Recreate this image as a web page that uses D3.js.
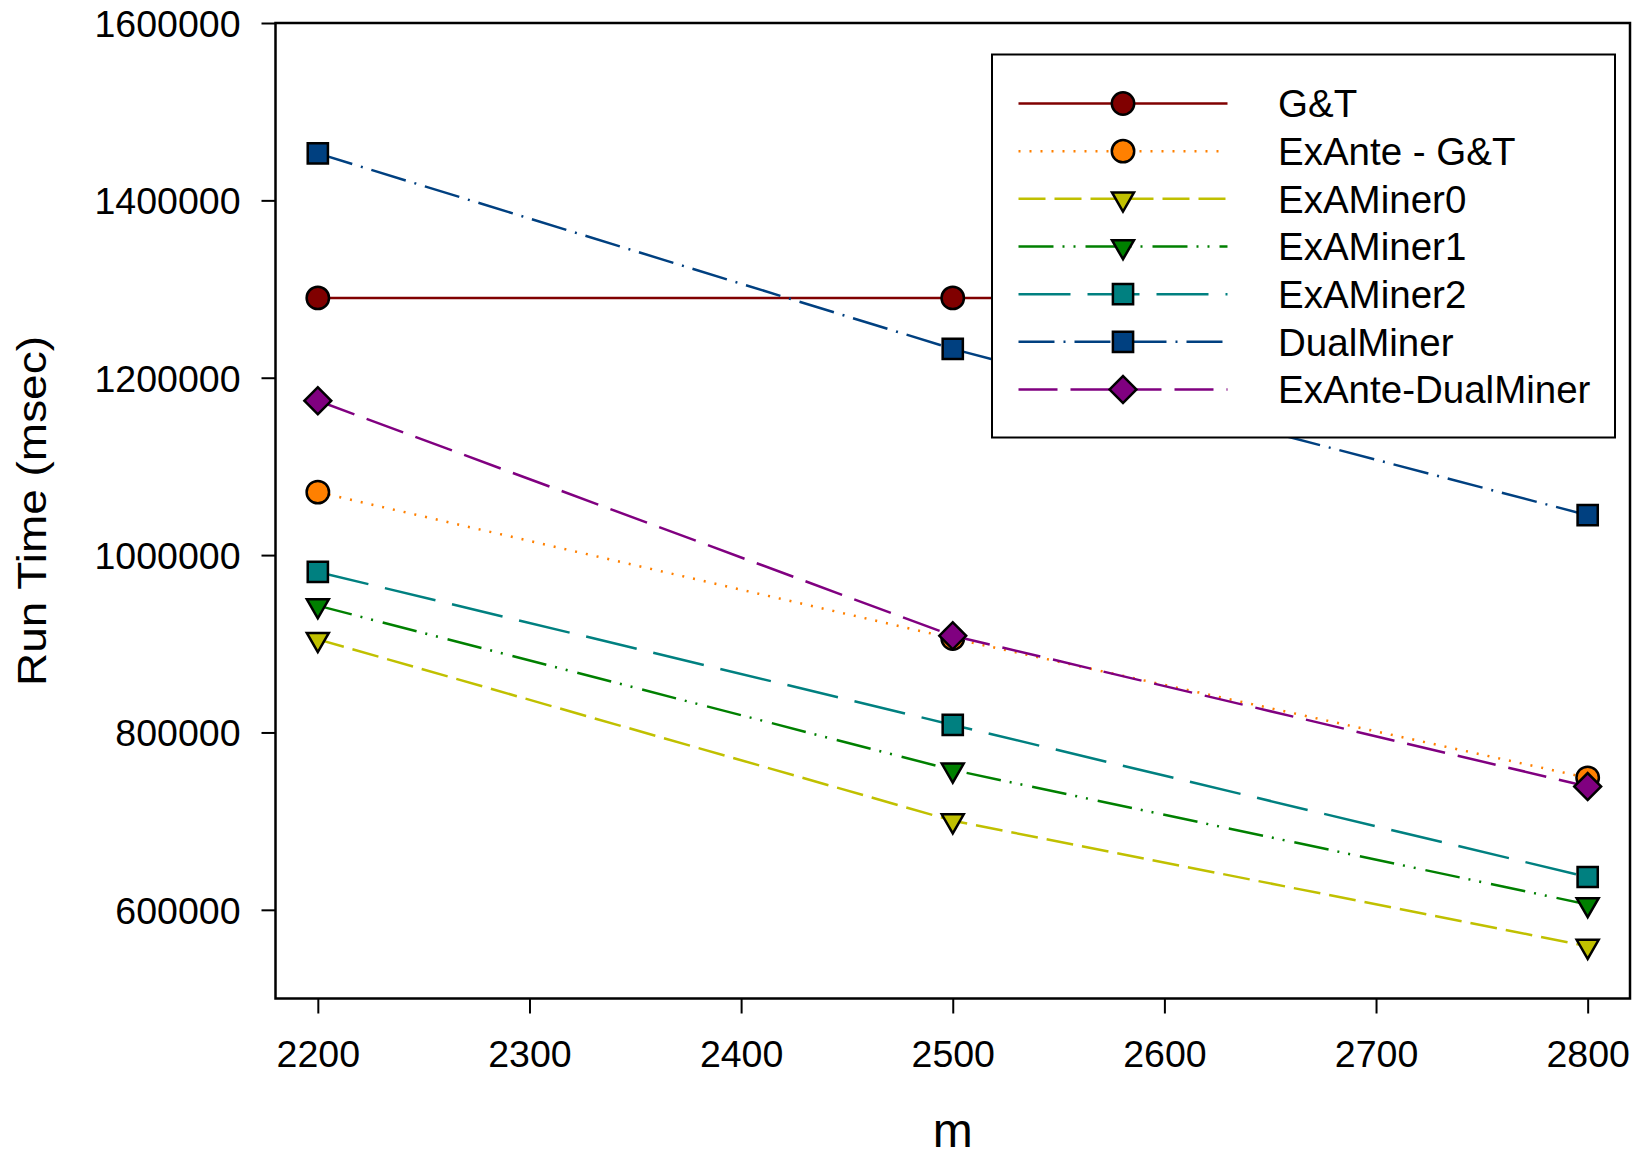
<!DOCTYPE html>
<html>
<head>
<meta charset="utf-8">
<script src="https://cdn.jsdelivr.net/npm/d3@7"></script>
<style>
  body { margin: 0; background: #fff; }
  svg { display: block; font-family: "Liberation Sans", Arial, Helvetica, sans-serif; }
</style>
</head>
<body>
<div id="chart"></div>
<script>
// data
const mValues = [2200, 2500, 2800];
const gtTimes = [1290000, 1290000, 1290000];
const exanteGtTimes = [1071000, 906000, 748800];
const examiner0Times = [905000, 700500, 559000];
const examiner1Times = [943000, 757700, 606000];
const examiner2Times = [981000, 808500, 637000];
const dualMinerTimes = [1453000, 1232500, 1045000];
const exanteDualTimes = [1174000, 909000, 739000];

const seriesNames = ["G&T", "ExAnte - G&T", "ExAMiner0", "ExAMiner1", "ExAMiner2", "DualMiner", "ExAnte-DualMiner"];
const xTicks = [2200, 2300, 2400, 2500, 2600, 2700, 2800];
const yTicks = [600000, 800000, 1000000, 1200000, 1400000, 1600000];

const seriesValues = [gtTimes, exanteGtTimes, examiner0Times, examiner1Times, examiner2Times, dualMinerTimes, exanteDualTimes];

// styles per series
const styles = [
  {color: "#800000", dash: null,                 shape: "circle"},
  {color: "#ff8000", dash: "2,9",                shape: "circle"},
  {color: "#c0c000", dash: "27,9",               shape: "triangle"},
  {color: "#008000", dash: "35,9,2,9,2,10",      shape: "triangle"},
  {color: "#008080", dash: "52,17",              shape: "square"},
  {color: "#004080", dash: "36,9,2,9",           shape: "square"},
  {color: "#800080", dash: "39,13",              shape: "diamond"}
];

const series = seriesNames.map((name, i) => ({
  name: name,
  style: styles[i],
  values: mValues.map((m, j) => ({m: m, t: seriesValues[i][j]}))
}));

const W = 1638, H = 1156;
const margin = {top: 23, right: 8, bottom: 157.5, left: 275.5};
const width = W - margin.left - margin.right,
      height = H - margin.top - margin.bottom;

let x = d3.scaleLinear().domain([2180, 2820]).range([0, width]);
let y = d3.scaleLinear().domain([500000, 1600000]).range([height, 0]);

let svg = d3.select("#chart").append("svg")
  .attr("width", W)
  .attr("height", H)
  .append("g")
  .attr("transform", "translate(" + margin.left + "," + margin.top + ")");

function markerPath(shape) {
  switch (shape) {
    case "circle": return d3.symbol().type(d3.symbolCircle).size(Math.PI * 11.2 * 11.2)();
    case "square": return d3.symbol().type(d3.symbolSquare).size(20.2 * 20.2)();
    case "triangle": return d3.symbol().type(d3.symbolTriangle).size(Math.sqrt(3) / 4 * 22 * 22)();
    case "diamond": return d3.symbol().type(d3.symbolSquare).size(19 * 19)();
  }
}
function markerRotate(shape) {
  if (shape === "triangle") return 180;
  if (shape === "diamond") return 45;
  return 0;
}

// axes
let xAxis = d3.axisBottom(x).tickValues(xTicks).tickSize(15).tickPadding(27).tickSizeOuter(0).tickFormat(d3.format("d"));
let yAxis = d3.axisLeft(y).tickValues(yTicks).tickSize(14).tickPadding(21).tickSizeOuter(0).tickFormat(d3.format("d"));

let gx = svg.append("g")
  .attr("class", "x axis")
  .attr("transform", "translate(0," + height + ")")
  .call(xAxis);
let gy = svg.append("g")
  .attr("class", "y axis")
  .call(yAxis);

[gx, gy].forEach(g => {
  g.select(".domain").remove();
  g.selectAll(".tick line").attr("stroke", "#000").attr("stroke-width", 2);
  g.selectAll(".tick text")
    .attr("fill", "#000")
    .style("font-size", "37.5px")
    .style("font-family", "'Liberation Sans', Arial, sans-serif");
});
gy.selectAll(".tick text").attr("dy", "0.36em");

// frame
svg.append("rect")
  .attr("x", 0).attr("y", 0)
  .attr("width", width).attr("height", height)
  .attr("fill", "none")
  .attr("stroke", "#000")
  .attr("stroke-width", 2.5);

// axis titles
svg.append("text")
  .attr("x", width / 2)
  .attr("y", H - margin.top - 9)
  .attr("text-anchor", "middle")
  .style("font-size", "48px")
  .text("m");

svg.append("text")
  .attr("transform", "translate(" + (46 - margin.left) + "," + (511 - margin.top) + ") rotate(-90)")
  .attr("text-anchor", "middle")
  .attr("textLength", 350)
  .attr("lengthAdjust", "spacingAndGlyphs")
  .style("font-size", "40px")
  .text("Run Time (msec)");

// lines and markers
let line = d3.line().x(d => x(d.m)).y(d => y(d.t));

let seriesG = svg.selectAll(".series")
  .data(series)
  .enter().append("g")
  .attr("class", "series");

seriesG.append("path")
  .attr("d", d => line(d.values))
  .attr("fill", "none")
  .attr("stroke", d => d.style.color)
  .attr("stroke-width", 2.5)
  .attr("stroke-dasharray", d => d.style.dash);

seriesG.selectAll(".pt")
  .data(d => d.values.map(v => ({m: v.m, t: v.t, style: d.style})))
  .enter().append("path")
  .attr("class", "pt")
  .attr("d", d => markerPath(d.style.shape))
  .attr("transform", d => "translate(" + x(d.m) + "," + y(d.t) + ") rotate(" + markerRotate(d.style.shape) + ")")
  .attr("fill", d => d.style.color)
  .attr("stroke", "#000")
  .attr("stroke-width", 2.5);

// legend
let lg = svg.append("g")
  .attr("transform", "translate(" + (992 - margin.left) + "," + (54.5 - margin.top) + ")");

lg.append("rect")
  .attr("width", 623)
  .attr("height", 383)
  .attr("fill", "#fff")
  .attr("stroke", "#000")
  .attr("stroke-width", 2);

let legend = lg.selectAll(".legend")
  .data(series)
  .enter().append("g")
  .attr("class", "legend")
  .attr("transform", (d, i) => "translate(0," + (49 + i * 47.67) + ")");

legend.append("line")
  .attr("x1", 26.5).attr("x2", 235.5)
  .attr("y1", 0).attr("y2", 0)
  .attr("stroke", d => d.style.color)
  .attr("stroke-width", 2.5)
  .attr("stroke-dasharray", d => d.style.dash);

legend.append("path")
  .attr("d", d => markerPath(d.style.shape))
  .attr("transform", d => "translate(131,0) rotate(" + markerRotate(d.style.shape) + ")")
  .attr("fill", d => d.style.color)
  .attr("stroke", "#000")
  .attr("stroke-width", 2.5);

legend.append("text")
  .attr("x", 286)
  .attr("y", 0)
  .attr("dy", "0.36em")
  .style("font-size", "38.5px")
  .text(d => d.name);
</script>
</body>
</html>
